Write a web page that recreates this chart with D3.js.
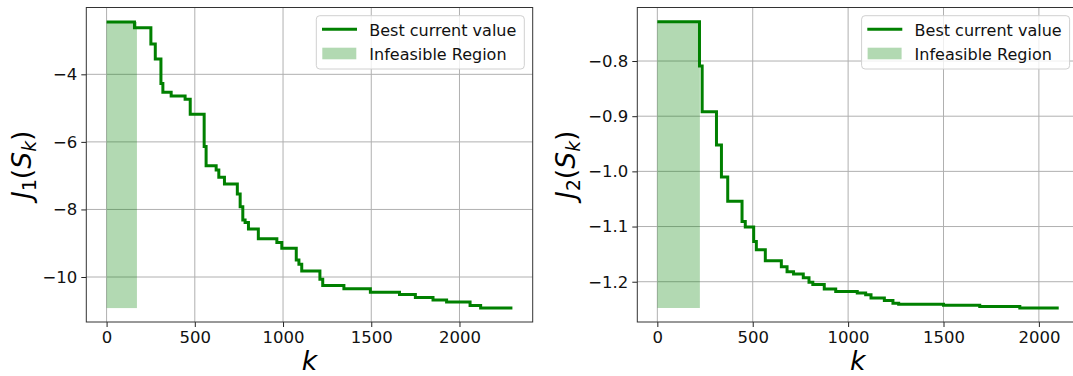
<!DOCTYPE html>
<html>
<head>
<meta charset="utf-8">
<script src="https://cdn.jsdelivr.net/npm/d3@7"></script>
<style>
  html, body { margin: 0; padding: 0; background: #fff; }
  svg { display: block; }
  text { font-family: "DejaVu Sans", sans-serif; }
</style>
</head>
<body>
<svg id="chart" width="1073" height="376"></svg>
<script>
// ---- Data ----
const leftK = [0, 158, 251, 276, 308, 319, 366, 445, 474, 553, 564, 621, 636, 668, 741, 757, 772, 785, 804, 860, 965, 993, 1075, 1090, 1106, 1209, 1225, 1345, 1495, 1660, 1750, 1850, 1927, 2060, 2120, 2300];
const leftJ = [-2.45, -2.62, -3.10, -3.55, -4.27, -4.53, -4.64, -4.74, -5.18, -6.14, -6.71, -6.83, -7.05, -7.25, -7.54, -7.92, -8.31, -8.39, -8.58, -8.87, -8.98, -9.15, -9.50, -9.62, -9.82, -10.07, -10.25, -10.35, -10.45, -10.52, -10.61, -10.68, -10.74, -10.84, -10.92, -10.92];
const rightK = [0, 221, 235, 310, 336, 369, 444, 461, 505, 519, 566, 650, 680, 714, 765, 795, 815, 875, 935, 1048, 1092, 1120, 1190, 1235, 1265, 1500, 1690, 1900, 2104];
const rightJ = [-0.729, -0.809, -0.892, -0.952, -1.010, -1.054, -1.091, -1.101, -1.127, -1.142, -1.162, -1.173, -1.182, -1.186, -1.193, -1.201, -1.205, -1.213, -1.2175, -1.2205, -1.2236, -1.2295, -1.234, -1.239, -1.2408, -1.2426, -1.245, -1.2476, -1.2476];
const leftInfeasibleEnd = 172;
const rightInfeasibleEnd = 223;
const xTickValues = [0, 500, 1000, 1500, 2000];
const leftYTicks = [-10, -8, -6, -4];
const rightYTicks = [-1.2, -1.1, -1.0, -0.9, -0.8];
const legendLabels = ["Best current value", "Infeasible Region"];

// ---- Layout ----
const svg = d3.select("#chart");
const lineColor = "#008000";
const fillColor = "rgba(0,128,0,0.3)";

const panels = [
  { k: leftK, j: leftJ, infEnd: leftInfeasibleEnd, xr: [86.3, 532.7], xd: [-115, 2415], yd: [-11.332, -2.022],
    yTicks: leftYTicks, yFmt: d3.format("d"), sub: "1", labelX: 31 },
  { k: rightK, j: rightJ, infEnd: rightInfeasibleEnd, xr: [637.3, 1078], xd: [-105, 2205], yd: [-1.273, -0.703],
    yTicks: rightYTicks, yFmt: d3.format(".1f"), sub: "2", labelX: 575 }
];
const yr = [322, 7.5];

panels.forEach(p => {
  const x = d3.scaleLinear().domain(p.xd).range(p.xr);
  const y = d3.scaleLinear().domain(p.yd).range(yr);
  const g = svg.append("g");

  // grid
  g.append("g").selectAll("line").data(xTickValues).join("line")
    .attr("x1", d => x(d)).attr("x2", d => x(d)).attr("y1", yr[0]).attr("y2", yr[1])
    .attr("stroke", "#b0b0b0").attr("stroke-width", 1);
  g.append("g").selectAll("line").data(p.yTicks).join("line")
    .attr("y1", d => y(d)).attr("y2", d => y(d)).attr("x1", p.xr[0]).attr("x2", p.xr[1])
    .attr("stroke", "#b0b0b0").attr("stroke-width", 1);

  // infeasible region
  const jmin = d3.min(p.j), jmax = d3.max(p.j);
  g.append("rect")
    .attr("x", x(0)).attr("width", x(p.infEnd) - x(0))
    .attr("y", y(jmax)).attr("height", y(jmin) - y(jmax))
    .attr("fill", fillColor);

  // step line
  const pts = p.k.map((k, i) => [k, p.j[i]]);
  g.append("path").datum(pts)
    .attr("d", d3.line().x(d => x(d[0])).y(d => y(d[1])).curve(d3.curveStepAfter))
    .attr("fill", "none").attr("stroke", lineColor).attr("stroke-width", 3)
    .attr("stroke-linejoin", "miter");

  // axes
  const xa = g.append("g").attr("transform", `translate(0,${yr[0]})`)
    .call(d3.axisBottom(x).tickValues(xTickValues).tickFormat(d3.format("d")).tickSize(5).tickPadding(4));
  const ya = g.append("g").attr("transform", `translate(${p.xr[0]},0)`)
    .call(d3.axisLeft(y).tickValues(p.yTicks).tickFormat(p.yFmt).tickSize(5).tickPadding(4));
  [xa, ya].forEach(a => {
    a.select(".domain").remove();
    a.selectAll(".tick line").attr("stroke", "#222").attr("stroke-width", 1);
    a.selectAll(".tick text").attr("font-family", "DejaVu Sans").attr("font-size", 16.5).attr("fill", "#111");
  });

  // spines
  g.append("rect").attr("x", p.xr[0]).attr("y", yr[1])
    .attr("width", p.xr[1] - p.xr[0]).attr("height", yr[0] - yr[1])
    .attr("fill", "none").attr("stroke", "#333").attr("stroke-width", 1);

  // x label
  g.append("text").attr("x", (p.xr[0] + p.xr[1]) / 2).attr("y", 370)
    .attr("text-anchor", "middle").attr("font-size", 26.7).attr("font-style", "italic").text("k");

  // y label  J_n(S_k)
  const yl = g.append("text")
    .attr("transform", `translate(${p.labelX},${(yr[0] + yr[1]) / 2}) rotate(-90)`)
    .attr("text-anchor", "middle").attr("font-size", 26.7);
  yl.append("tspan").attr("font-style", "italic").text("J");
  yl.append("tspan").attr("font-size", 18.7).attr("dy", 5).text(p.sub);
  yl.append("tspan").attr("dy", -5).text("(");
  yl.append("tspan").attr("font-style", "italic").text("S");
  yl.append("tspan").attr("font-style", "italic").attr("font-size", 18.7).attr("dy", 5).text("k");
  yl.append("tspan").attr("dy", -5).text(")");

  // legend
  const lx = p.xr[1] - 8.4 - 208, ly = 15.7;
  const lg = g.append("g").attr("transform", `translate(${lx},${ly})`);
  lg.append("rect").attr("width", 208).attr("height", 53.3).attr("rx", 3.5)
    .attr("fill", "rgba(255,255,255,0.8)").attr("stroke", "#d0d0d0").attr("stroke-width", 1);
  lg.append("line").attr("x1", 5.7).attr("x2", 40.7).attr("y1", 13.6).attr("y2", 13.6)
    .attr("stroke", lineColor).attr("stroke-width", 3);
  lg.append("rect").attr("x", 6).attr("y", 32).attr("width", 34).attr("height", 11.6).attr("fill", fillColor);
  lg.selectAll("text.lbl").data(legendLabels).join("text").attr("class", "lbl")
    .attr("x", 53).attr("y", (d, i) => 20 + i * 24.3)
    .attr("font-size", 16).attr("fill", "#111").text(d => d);
});
</script>
</body>
</html>
